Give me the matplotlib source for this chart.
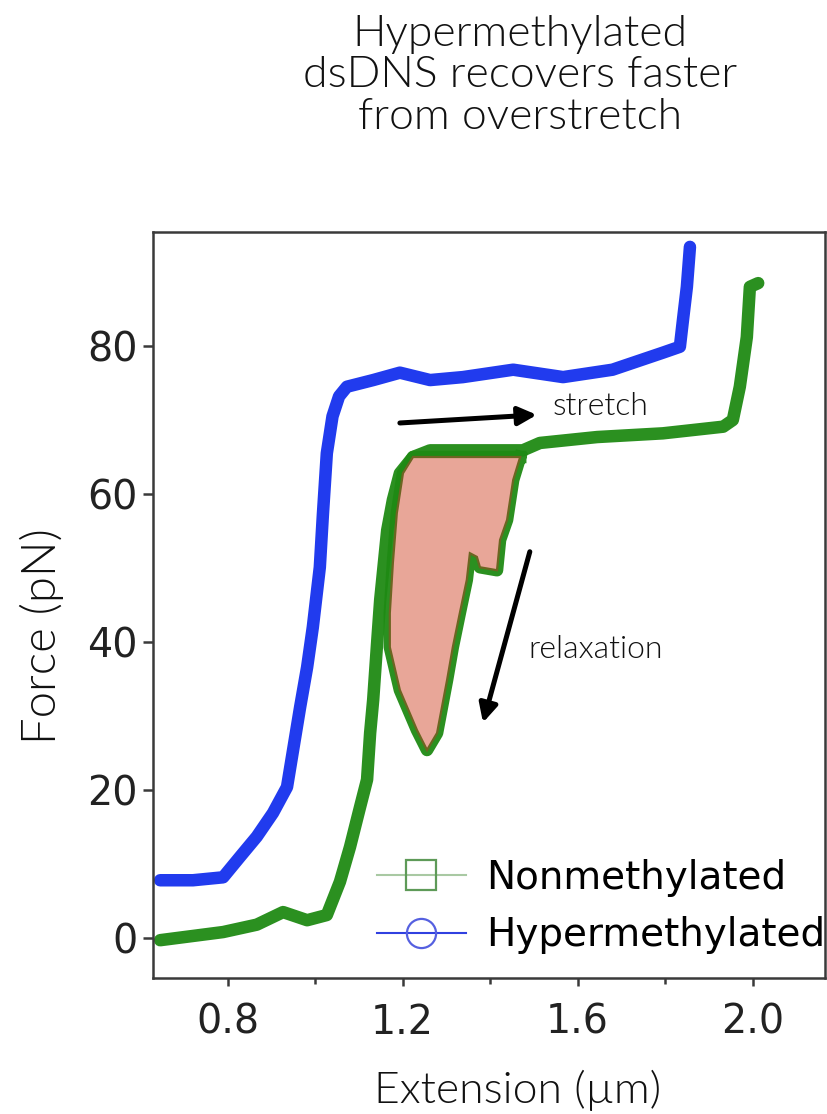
import matplotlib
matplotlib.use("Agg")
import matplotlib.pyplot as plt
from matplotlib.lines import Line2D
from matplotlib.patches import Polygon

# Hypermethylated dsDNA: extension (µm) vs force (pN)
hyper_ext = [0.646, 0.721, 0.790, 0.829, 0.867, 0.904, 0.936, 0.966, 0.982,
             0.995, 1.011, 1.018, 1.027, 1.040, 1.055, 1.073, 1.133, 1.194,
             1.263, 1.338, 1.453, 1.567, 1.680, 1.795, 1.834, 1.841, 1.850,
             1.857]
hyper_force = [7.8, 7.8, 8.2, 11.0, 13.7, 16.9, 20.4, 31.2, 36.6,
               42.0, 50.1, 57.2, 65.5, 70.5, 73.2, 74.5, 75.4, 76.4,
               75.4, 75.8, 76.8, 75.8, 76.8, 79.1, 79.9, 83.5, 88.0,
               93.4]

# Nonmethylated dsDNA, stretching trace
non_ext = [0.646, 0.790, 0.867, 0.927, 0.982, 1.027, 1.057, 1.080, 1.103,
           1.119, 1.126, 1.133, 1.142, 1.149, 1.165, 1.178, 1.194, 1.224,
           1.263, 1.475, 1.514, 1.645, 1.795, 1.933, 1.955, 1.971, 1.987,
           1.994, 2.013]
non_force = [-0.3, 0.8, 1.8, 3.5, 2.4, 3.1, 7.6, 12.3, 17.7,
             21.4, 27.7, 32.2, 39.9, 45.7, 55.1, 59.2, 62.8, 65.0,
             65.9, 65.9, 66.9, 67.7, 68.2, 69.1, 70.0, 74.5, 81.2,
             88.0, 88.5]

# Nonmethylated dsDNA, relaxation trace (encloses the hysteresis area)
relax_ext = [1.469, 1.453, 1.439, 1.423, 1.416, 1.377, 1.370, 1.354, 1.347,
             1.331, 1.315, 1.302, 1.279, 1.256, 1.233, 1.194, 1.171, 1.171,
             1.178, 1.187, 1.201, 1.224]
relax_force = [65.0, 61.9, 56.5, 53.8, 49.7, 50.1, 51.5, 52.0, 48.4,
               43.9, 39.3, 34.9, 27.7, 25.4, 28.1, 33.5, 39.3, 43.9,
               50.7, 57.4, 62.8, 65.0]

x_ticks = [0.8, 1.2, 1.6, 2.0]
x_minor = [1.0, 1.4, 1.8]
y_ticks = [0, 20, 40, 60, 80]

BLUE = "#1530ee"
GREEN = "#1f8a14"
PINK = "#e8a698"
OLIVE = "#6d6522"

LIGHT = dict(family="Lato", weight=300, color="#111111")

fig = plt.figure(figsize=(8.28, 11.14), dpi=100)
ax = fig.add_axes([153 / 828, 1 - 978 / 1114, 672 / 828, 746 / 1114])

# data traces
ax.plot(hyper_ext, hyper_force, color=BLUE, lw=9.0, alpha=0.95,
        solid_joinstyle="round", solid_capstyle="round", zorder=2)
ax.plot(non_ext, non_force, color=GREEN, lw=9.0, alpha=0.95,
        solid_joinstyle="round", solid_capstyle="round", zorder=2)
ax.plot(relax_ext + relax_ext[:1], relax_force + relax_force[:1], color=GREEN,
        lw=9.0, alpha=0.95, solid_joinstyle="round", zorder=2)

# hysteresis area between stretching and relaxation
ax.add_patch(Polygon(list(zip(relax_ext, relax_force)), closed=True,
                     facecolor=PINK, edgecolor=OLIVE, lw=1.6, zorder=3))

# annotations
ax.annotate("", xy=(1.507, 70.7), xytext=(1.194, 69.6),
            arrowprops=dict(arrowstyle="-|>,head_length=1.1,head_width=0.55",
                            color="black", lw=3.6, shrinkA=0, shrinkB=0))
ax.text(1.544, 70.7, "stretch", fontsize=23, va="baseline", ha="left", **LIGHT)
ax.annotate("", xy=(1.384, 29.1), xytext=(1.491, 52.2),
            arrowprops=dict(arrowstyle="-|>,head_length=1.1,head_width=0.55",
                            color="black", lw=3.6, shrinkA=0, shrinkB=0))
ax.text(1.487, 37.8, "relaxation", fontsize=23, va="baseline", ha="left", **LIGHT)

# axes styling
ax.set_xlim(0.6297, 2.1657)
ax.set_ylim(-5.41, 95.41)
ax.set_xticks(x_ticks)
ax.set_xticklabels(["0.8", "1.2", "1.6", "2.0"])
ax.set_xticks(x_minor, minor=True)
ax.set_yticks(y_ticks)
for s in ax.spines.values():
    s.set_color("#3a3a3a")
    s.set_linewidth(1.8)
ax.tick_params(axis="both", which="major", direction="out", color="#3a3a3a",
               width=1.8, labelsize=28.5, labelcolor="#222222",
               labelfontfamily="DejaVu Sans")
ax.tick_params(axis="x", which="major", length=6, pad=12)
ax.tick_params(axis="x", which="minor", length=4, width=1.8, color="#3a3a3a")
ax.tick_params(axis="y", which="major", length=7, pad=4)

ax.set_xlabel("Extension (µm)", fontsize=32, **LIGHT)
ax.xaxis.set_label_coords(0.542, -0.150)
ax.xaxis.label.set_va("center")
ax.set_ylabel("Force (pN)", fontsize=34, **LIGHT)
ax.yaxis.set_label_coords(-0.165, 0.458)
ax.yaxis.label.set_va("center")

# legend
handles = [
    Line2D([], [], color="#a9c9a3", lw=1.5, marker="s", markersize=21,
           markerfacecolor="none", markeredgecolor="#5e9a58", markeredgewidth=1.6,
           label="Nonmethylated"),
    Line2D([], [], color="#3040e0", lw=1.5, marker="o", markersize=21,
           markerfacecolor="none", markeredgecolor="#5560e0", markeredgewidth=1.6,
           label="Hypermethylated"),
]
ax.legend(handles=handles, loc="lower left", bbox_to_anchor=(0.333, 0.032),
          frameon=False, handlelength=2.3, handletextpad=0.5,
          labelspacing=0.5, borderaxespad=0, borderpad=0,
          prop=dict(family="DejaVu Sans", size=28))

fig.text(520 / 828, 1 - 15 / 1114,
         "Hypermethylated\ndsDNS recovers faster\nfrom overstretch",
         ha="center", va="top", fontsize=32, linespacing=1.08, **LIGHT)

fig.savefig("out.png", dpi=100)
